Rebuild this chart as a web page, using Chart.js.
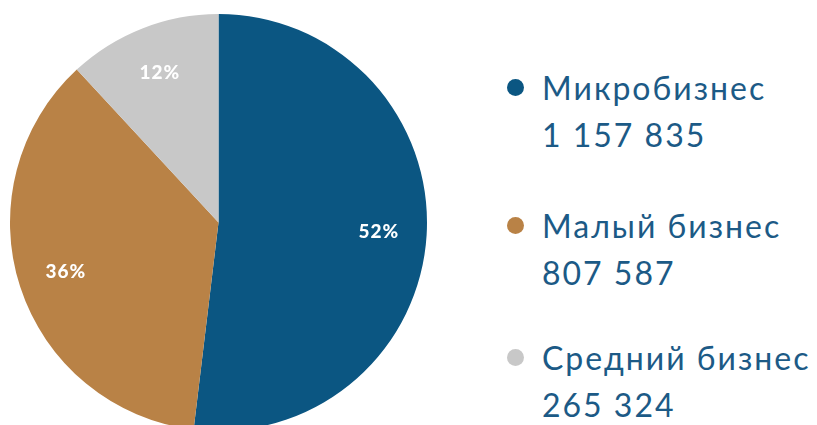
<!DOCTYPE html>
<html><head><meta charset="utf-8">
<script src="https://cdn.jsdelivr.net/npm/chart.js@4/dist/chart.umd.min.js"></script>
<style>
html,body{margin:0;padding:0;background:#fff;overflow:hidden;width:817px;height:425px;}
#wrap{position:absolute;left:0;top:0;width:440px;height:440px;}
.leg{position:absolute;left:507px;font-family:Lato,sans-serif;color:#1c5a86;font-size:32px;line-height:47px;white-space:nowrap;letter-spacing:2px;}
.dot{position:absolute;left:0;width:17px;height:17px;border-radius:50%;}
.txt{position:absolute;left:35px;}
</style></head><body>
<div id="wrap"><canvas id="c" width="440" height="440"></canvas></div>
<div id="legend"></div>
<script>
const categories = ["Микробизнес", "Малый бизнес", "Средний бизнес"];
const values = [1157835, 807587, 265324];
const valueLabels = ["1 157 835", "807 587", "265 324"];
const percentLabels = ["52%", "36%", "12%"];
const colors = ["#0b5682", "#b98246", "#c8c8c8"];

const legendTops = [64, 202, 334];
const lg = document.getElementById('legend');
categories.forEach((c,i)=>{
  const d = document.createElement('div');
  d.className='leg'; d.style.top=legendTops[i]+'px';
  d.innerHTML = '<div class="dot" style="top:15px;background:'+colors[i]+'"></div><div class="txt">'+c+'<br>'+valueLabels[i]+'</div>';
  lg.appendChild(d);
});

const labelPlugin = {
  id:'pctLabels',
  afterDatasetsDraw(chart){
    const ctx = chart.ctx;
    const meta = chart.getDatasetMeta(0);
    ctx.save();
    ctx.fillStyle='#ffffff';
    ctx.font='900 19px Lato, sans-serif';
    try { ctx.letterSpacing='1px'; } catch(e) {}
    ctx.textAlign='center'; ctx.textBaseline='middle';
    meta.data.forEach((arc,i)=>{
      const p = arc.getProps(['x','y','startAngle','endAngle','outerRadius'], true);
      const a = (p.startAngle+p.endAngle)/2;
      const r = p.outerRadius*0.77;
      ctx.fillText(percentLabels[i], p.x+Math.cos(a)*r, p.y+Math.sin(a)*r);
    });
    ctx.restore();
  }
};

new Chart(document.getElementById('c'), {
  type:'pie',
  data:{labels:categories, datasets:[{data:values, backgroundColor:colors, borderWidth:0}]},
  options:{
    responsive:false, animation:false,
    layout:{padding:{left:10,top:14,right:13,bottom:9}},
    plugins:{legend:{display:false}, tooltip:{enabled:false}}
  },
  plugins:[labelPlugin]
});
</script>
</body></html>
